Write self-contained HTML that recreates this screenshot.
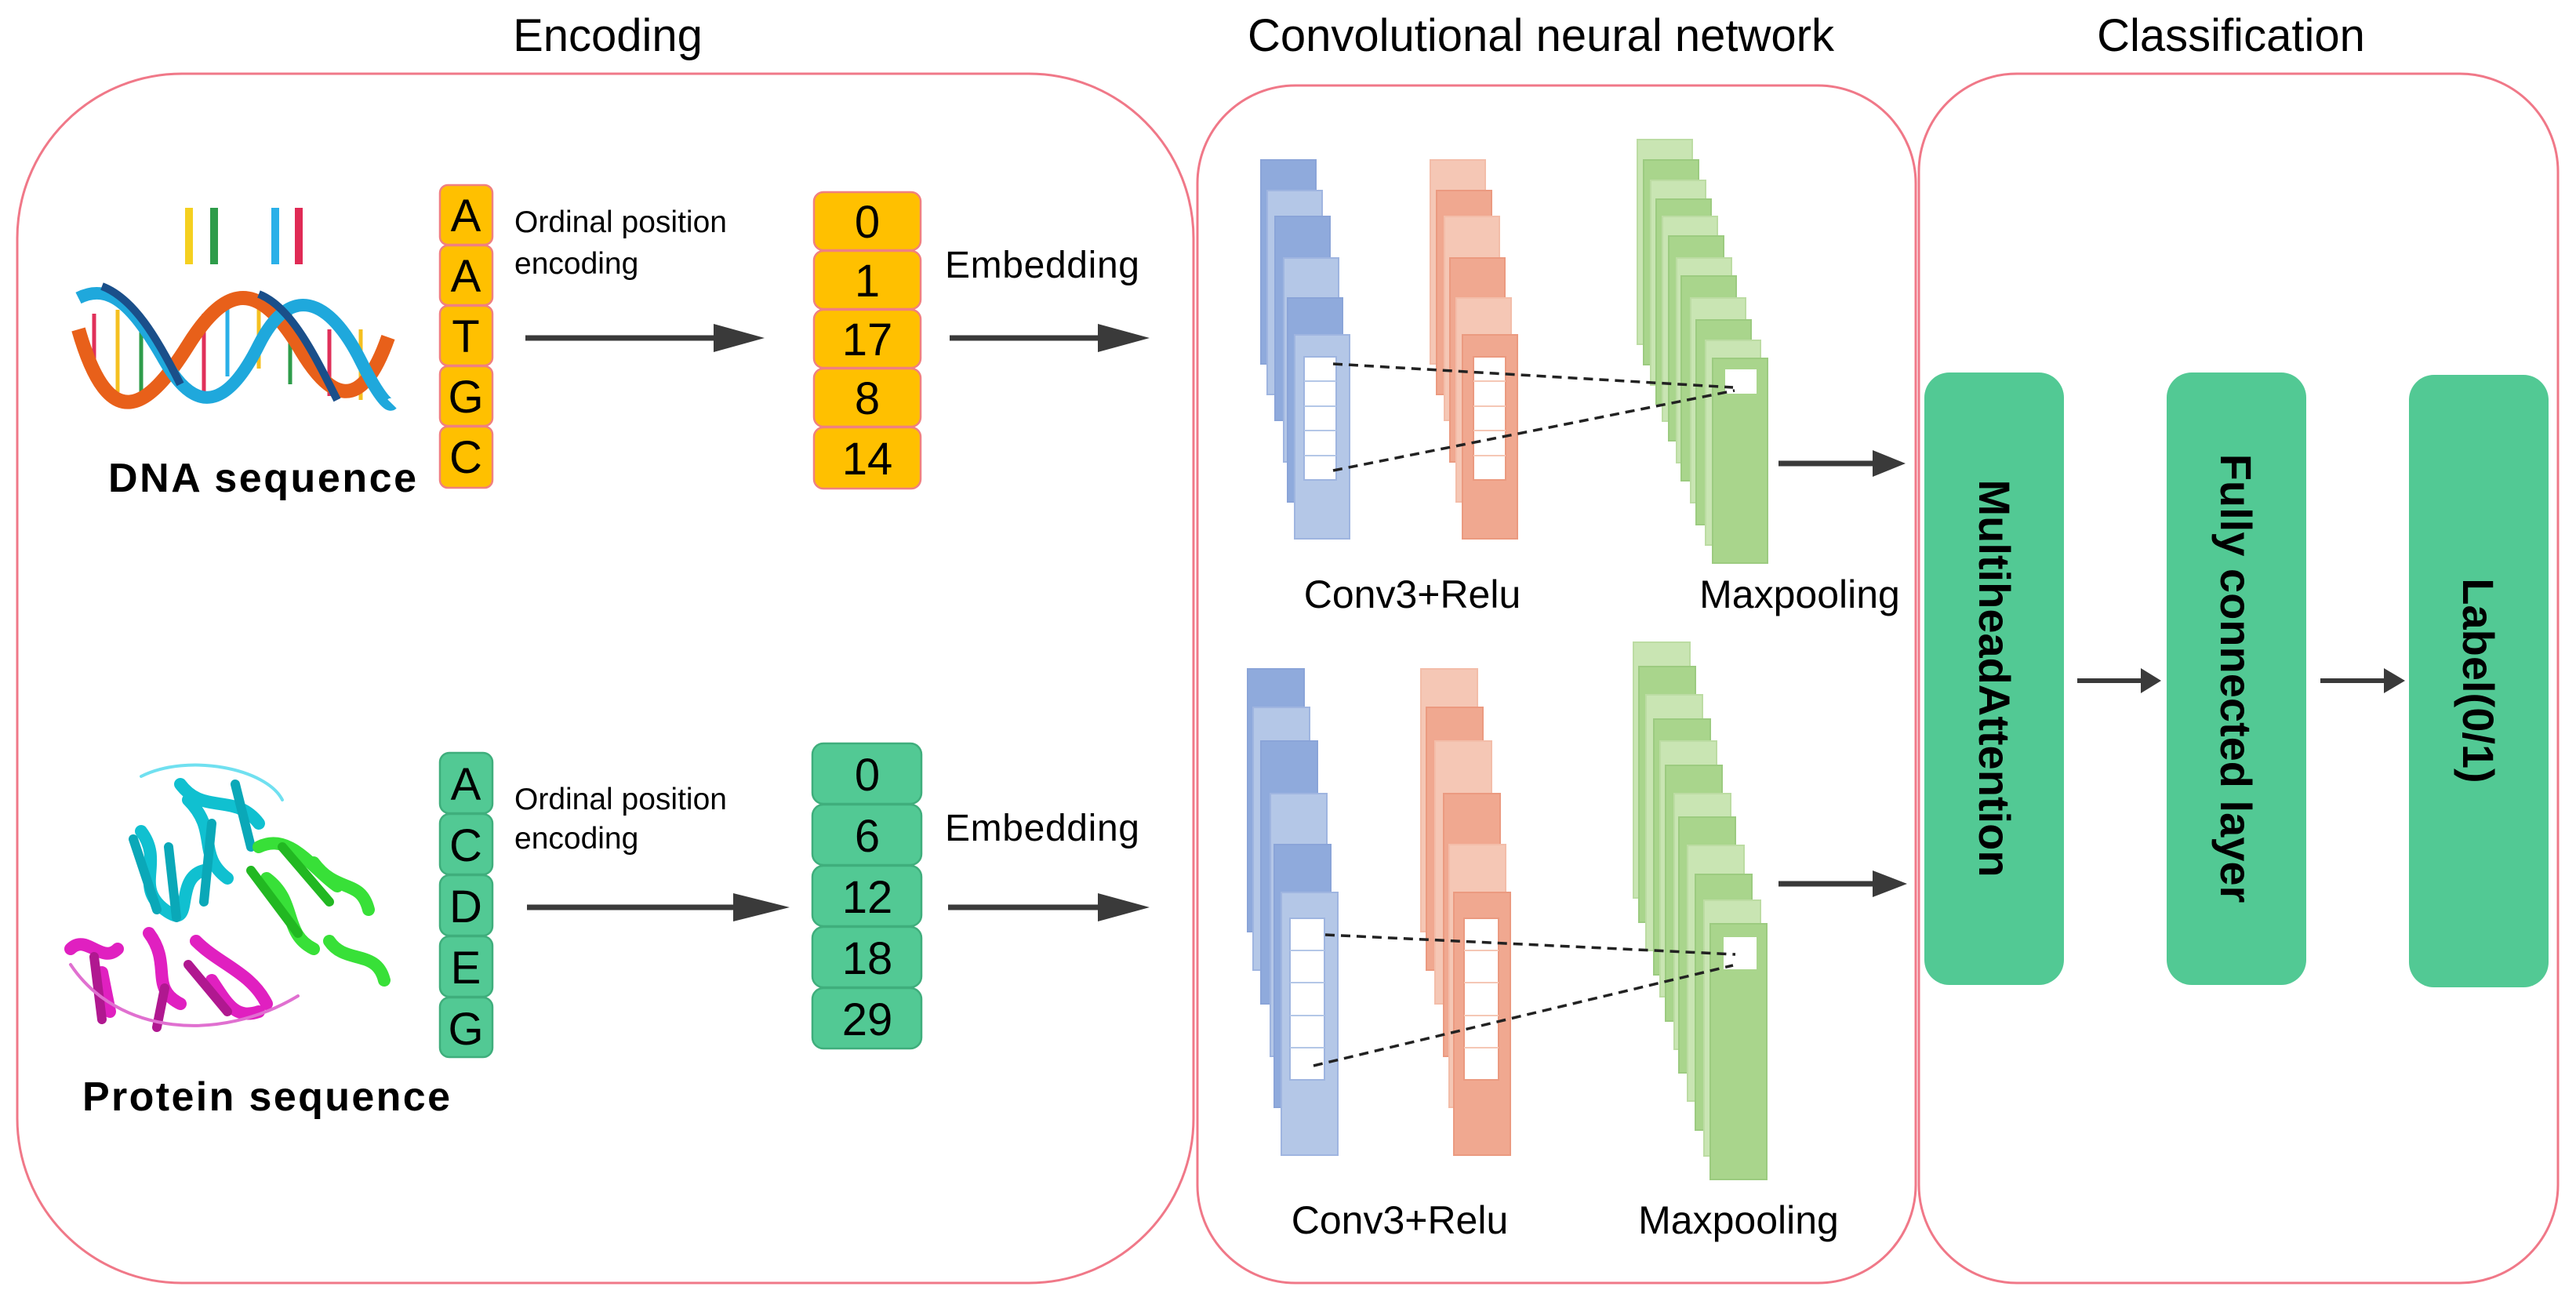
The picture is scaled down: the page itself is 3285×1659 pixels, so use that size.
<!DOCTYPE html>
<html><head><meta charset="utf-8"><style>
html,body{margin:0;padding:0;background:#fff}
svg{display:block}
text{font-family:"Liberation Sans",Arial,sans-serif}
</style></head><body>
<svg width="3285" height="1659" viewBox="0 0 3285 1659" xmlns="http://www.w3.org/2000/svg">
<defs>
<marker id="ah" markerWidth="10" markerHeight="10" refX="0" refY="0" orient="auto"></marker>
</defs>
<!-- Titles -->
<text x="775" y="65" font-size="58" text-anchor="middle">Encoding</text>
<text x="1965" y="65" font-size="58" text-anchor="middle">Convolutional neural network</text>
<text x="2845" y="65" font-size="58" text-anchor="middle">Classification</text>

<!-- Big boxes -->
<rect x="22" y="94" width="1500" height="1542" rx="210" ry="210" fill="none" stroke="#f07888" stroke-width="3"/>
<rect x="1527" y="109" width="916" height="1527" rx="125" ry="125" fill="none" stroke="#f07888" stroke-width="3"/>
<rect x="2447" y="94" width="815" height="1542" rx="125" ry="125" fill="none" stroke="#f07888" stroke-width="3"/>

<!-- DNA image -->
<g>
<rect x="236" y="265" width="10" height="72" fill="#f5d020"/>
<rect x="268" y="265" width="10" height="72" fill="#2e9c4a"/>
<rect x="346" y="265" width="10" height="72" fill="#2ab0e8"/>
<rect x="376" y="265" width="10" height="72" fill="#e02a55"/>
<g stroke-width="5">
<line x1="120" y1="400" x2="120" y2="480" stroke="#e0305a"/>
<line x1="150" y1="395" x2="150" y2="500" stroke="#f5c020"/>
<line x1="180" y1="420" x2="180" y2="500" stroke="#2e9c4a"/>
<line x1="260" y1="400" x2="260" y2="500" stroke="#e0305a"/>
<line x1="290" y1="385" x2="290" y2="480" stroke="#2ab0e8"/>
<line x1="330" y1="385" x2="330" y2="470" stroke="#f5c020"/>
<line x1="370" y1="395" x2="370" y2="490" stroke="#2e9c4a"/>
<line x1="420" y1="420" x2="420" y2="505" stroke="#e0305a"/>
<line x1="460" y1="420" x2="460" y2="510" stroke="#f5c020"/>
</g>
<path d="M100 420 C140 560 190 520 240 440 C290 360 330 360 380 440 C420 510 460 530 495 430" fill="none" stroke="#e8601a" stroke-width="18"/>
<path d="M100 380 C140 360 170 390 210 460 C250 530 290 520 330 440 C370 360 420 380 460 460 C480 500 495 520 500 515" fill="none" stroke="#1fa8dc" stroke-width="16"/>
<path d="M130 365 C170 380 200 430 230 490" fill="none" stroke="#1a4f8a" stroke-width="10"/>
<path d="M330 375 C370 390 400 450 430 510" fill="none" stroke="#1a4f8a" stroke-width="10"/>
</g>
<text x="138" y="627" font-size="52" font-weight="bold" textLength="393">DNA sequence</text>

<!-- Protein image -->
<g fill="none" stroke-linecap="round">
<path d="M230 1000 C260 1040 300 1010 330 1050 M180 1060 C210 1100 170 1130 210 1160 C250 1190 220 1120 260 1110 M240 1020 C280 1060 250 1090 290 1120" stroke="#10c0d0" stroke-width="16"/>
<path d="M170 1070 L200 1160 M215 1080 L225 1170 M270 1050 L260 1150 M300 1000 L320 1080" stroke="#0aa8b8" stroke-width="12"/>
<path d="M330 1080 C370 1060 400 1110 430 1130 M340 1120 C380 1150 360 1190 400 1210 M400 1100 C430 1140 460 1120 470 1160 M420 1200 C440 1230 480 1210 490 1250" stroke="#38e038" stroke-width="16"/>
<path d="M320 1110 L380 1190 M360 1080 L420 1150" stroke="#22b822" stroke-width="12"/>
<path d="M90 1210 C110 1190 130 1230 150 1210 M130 1240 L140 1290 M190 1190 C220 1230 190 1260 230 1280 M250 1200 C280 1230 320 1240 340 1280 M270 1250 C290 1280 300 1300 330 1290" stroke="#e020c0" stroke-width="16"/>
<path d="M120 1220 L130 1300 M240 1230 L290 1290 M210 1260 L200 1310" stroke="#b01890" stroke-width="12"/>
<path d="M90 1230 C150 1320 280 1330 380 1270" stroke="#e070d0" stroke-width="4"/>
<path d="M180 990 C240 960 340 980 360 1020" stroke="#70e0f0" stroke-width="4"/>
</g>
<text x="105" y="1416" font-size="52" font-weight="bold" textLength="469">Protein sequence</text>

<!-- DNA letters -->
<g fill="#ffc000" stroke="#f08080" stroke-width="2.5">
<rect x="561" y="236" width="67" height="76" rx="10"/>
<rect x="561" y="313" width="67" height="76" rx="10"/>
<rect x="561" y="390" width="67" height="76" rx="10"/>
<rect x="561" y="467" width="67" height="76" rx="10"/>
<rect x="561" y="544" width="67" height="78" rx="10"/>
</g>
<g font-size="58" text-anchor="middle">
<text x="594" y="295">A</text><text x="594" y="372">A</text><text x="594" y="449">T</text><text x="594" y="526">G</text><text x="594" y="603">C</text>
</g>
<g fill="#ffc000" stroke="#f08080" stroke-width="2.5">
<rect x="1038" y="245" width="136" height="74" rx="12"/>
<rect x="1038" y="320" width="136" height="74" rx="12"/>
<rect x="1038" y="395" width="136" height="74" rx="12"/>
<rect x="1038" y="470" width="136" height="74" rx="12"/>
<rect x="1038" y="545" width="136" height="78" rx="12"/>
</g>
<g font-size="58" text-anchor="middle">
<text x="1106" y="303">0</text><text x="1106" y="378">1</text><text x="1106" y="453">17</text><text x="1106" y="528">8</text><text x="1106" y="605">14</text>
</g>
<text x="656" y="296" font-size="39">Ordinal position</text>
<text x="656" y="349" font-size="39">encoding</text>
<text x="1205" y="354" font-size="48" textLength="248">Embedding</text>

<!-- Protein letters -->
<g fill="#52c994" stroke="#3fae7c" stroke-width="2.5">
<rect x="561" y="960" width="67" height="77" rx="12"/>
<rect x="561" y="1038" width="67" height="77" rx="12"/>
<rect x="561" y="1116" width="67" height="77" rx="12"/>
<rect x="561" y="1194" width="67" height="77" rx="12"/>
<rect x="561" y="1272" width="67" height="76" rx="12"/>
</g>
<g font-size="58" text-anchor="middle">
<text x="594" y="1020">A</text><text x="594" y="1098">C</text><text x="594" y="1176">D</text><text x="594" y="1254">E</text><text x="594" y="1332">G</text>
</g>
<g fill="#52c994" stroke="#3fae7c" stroke-width="2.5">
<rect x="1036" y="948" width="139" height="77" rx="14"/>
<rect x="1036" y="1026" width="139" height="77" rx="14"/>
<rect x="1036" y="1104" width="139" height="77" rx="14"/>
<rect x="1036" y="1182" width="139" height="77" rx="14"/>
<rect x="1036" y="1260" width="139" height="77" rx="14"/>
</g>
<g font-size="58" text-anchor="middle">
<text x="1106" y="1008">0</text><text x="1106" y="1086">6</text><text x="1106" y="1164">12</text><text x="1106" y="1242">18</text><text x="1106" y="1320">29</text>
</g>
<text x="656" y="1032" font-size="39">Ordinal position</text>
<text x="656" y="1082" font-size="39">encoding</text>
<text x="1205" y="1072" font-size="48" textLength="248">Embedding</text>

<!-- Encoding arrows -->
<g stroke="#3a3a3a" stroke-width="7" fill="#3a3a3a">
<line x1="670" y1="431" x2="920" y2="431"/><path d="M910 413 L975 431 L910 449 Z" stroke="none"/>
<line x1="1211" y1="431" x2="1410" y2="431"/><path d="M1400 413 L1466 431 L1400 449 Z" stroke="none"/>
<line x1="672" y1="1157" x2="945" y2="1157"/><path d="M935 1139 L1007 1157 L935 1175 Z" stroke="none"/>
<line x1="1209" y1="1157" x2="1410" y2="1157"/><path d="M1400 1139 L1466 1157 L1400 1175 Z" stroke="none"/>
</g>

<!-- CNN top: blue -->
<g stroke-width="2">
<rect x="1608" y="204" width="70" height="260" fill="#8faadc" stroke="#8aa4d8"/>
<rect x="1616" y="243" width="70" height="260" fill="#b4c7e7" stroke="#9fb5e0"/>
<rect x="1626" y="276" width="70" height="260" fill="#8faadc" stroke="#8aa4d8"/>
<rect x="1637" y="329" width="70" height="260" fill="#b4c7e7" stroke="#9fb5e0"/>
<rect x="1642" y="380" width="70" height="260" fill="#8faadc" stroke="#8aa4d8"/>
<rect x="1651" y="427" width="70" height="260" fill="#b4c7e7" stroke="#9fb5e0"/>
</g>
<rect x="1663" y="455" width="41" height="157" fill="#fff" stroke="#9fb5e0" stroke-width="2"/>
<g stroke="#b4c7e7" stroke-width="2"><line x1="1663" y1="486" x2="1704" y2="486"/><line x1="1663" y1="518" x2="1704" y2="518"/><line x1="1663" y1="549" x2="1704" y2="549"/><line x1="1663" y1="581" x2="1704" y2="581"/></g>
<!-- orange -->
<g stroke-width="2">
<rect x="1824" y="204" width="70" height="260" fill="#f5c7b5" stroke="#f3bda9"/>
<rect x="1832" y="243" width="70" height="260" fill="#f0a890" stroke="#eb9a80"/>
<rect x="1842" y="276" width="70" height="260" fill="#f5c7b5" stroke="#f3bda9"/>
<rect x="1849" y="329" width="70" height="260" fill="#f0a890" stroke="#eb9a80"/>
<rect x="1857" y="380" width="70" height="260" fill="#f5c7b5" stroke="#f3bda9"/>
<rect x="1865" y="427" width="70" height="260" fill="#f0a890" stroke="#eb9a80"/>
</g>
<rect x="1879" y="455" width="41" height="157" fill="#fff" stroke="#eb9a80" stroke-width="2"/>
<g stroke="#f5c7b5" stroke-width="2"><line x1="1879" y1="486" x2="1920" y2="486"/><line x1="1879" y1="518" x2="1920" y2="518"/><line x1="1879" y1="549" x2="1920" y2="549"/><line x1="1879" y1="581" x2="1920" y2="581"/></g>
<!-- green -->
<g stroke-width="2">
<rect x="2088" y="178" width="70" height="261" fill="#c9e5b3" stroke="#bcdca3"/>
<rect x="2096" y="204" width="70" height="261" fill="#a9d58c" stroke="#9ccb80"/>
<rect x="2105" y="230" width="70" height="261" fill="#c9e5b3" stroke="#bcdca3"/>
<rect x="2112" y="254" width="70" height="261" fill="#a9d58c" stroke="#9ccb80"/>
<rect x="2120" y="276" width="70" height="261" fill="#c9e5b3" stroke="#bcdca3"/>
<rect x="2128" y="301" width="70" height="261" fill="#a9d58c" stroke="#9ccb80"/>
<rect x="2138" y="329" width="70" height="261" fill="#c9e5b3" stroke="#bcdca3"/>
<rect x="2144" y="352" width="70" height="261" fill="#a9d58c" stroke="#9ccb80"/>
<rect x="2156" y="380" width="70" height="261" fill="#c9e5b3" stroke="#bcdca3"/>
<rect x="2163" y="408" width="70" height="261" fill="#a9d58c" stroke="#9ccb80"/>
<rect x="2175" y="434" width="70" height="261" fill="#c9e5b3" stroke="#bcdca3"/>
<rect x="2184" y="457" width="70" height="261" fill="#a9d58c" stroke="#9ccb80"/>
</g>
<rect x="2200" y="471" width="40" height="31" fill="#fff"/>
<g stroke="#222" stroke-width="3.5" stroke-dasharray="12 8" fill="none">
<line x1="1700" y1="464" x2="2210" y2="494"/>
<line x1="1700" y1="600" x2="2212" y2="498"/>
</g>
<g stroke="#3a3a3a" stroke-width="7" fill="#3a3a3a">
<line x1="2268" y1="591" x2="2390" y2="591"/><path d="M2388 574 L2430 591 L2388 608 Z" stroke="none"/>
</g>
<text x="1801" y="775" font-size="50" text-anchor="middle">Conv3+Relu</text>
<text x="2295" y="775" font-size="50" text-anchor="middle">Maxpooling</text>

<!-- CNN bottom: blue -->
<g stroke-width="2">
<rect x="1591" y="853" width="72" height="335" fill="#8faadc" stroke="#8aa4d8"/>
<rect x="1598" y="902" width="72" height="335" fill="#b4c7e7" stroke="#9fb5e0"/>
<rect x="1608" y="945" width="72" height="335" fill="#8faadc" stroke="#8aa4d8"/>
<rect x="1620" y="1012" width="72" height="335" fill="#b4c7e7" stroke="#9fb5e0"/>
<rect x="1625" y="1077" width="72" height="335" fill="#8faadc" stroke="#8aa4d8"/>
<rect x="1634" y="1138" width="72" height="335" fill="#b4c7e7" stroke="#9fb5e0"/>
</g>
<rect x="1645" y="1171" width="44" height="206" fill="#fff" stroke="#9fb5e0" stroke-width="2"/>
<g stroke="#b4c7e7" stroke-width="2"><line x1="1645" y1="1212" x2="1689" y2="1212"/><line x1="1645" y1="1253" x2="1689" y2="1253"/><line x1="1645" y1="1295" x2="1689" y2="1295"/><line x1="1645" y1="1336" x2="1689" y2="1336"/></g>
<g stroke-width="2">
<rect x="1812" y="853" width="72" height="335" fill="#f5c7b5" stroke="#f3bda9"/>
<rect x="1819" y="902" width="72" height="335" fill="#f0a890" stroke="#eb9a80"/>
<rect x="1830" y="945" width="72" height="335" fill="#f5c7b5" stroke="#f3bda9"/>
<rect x="1841" y="1012" width="72" height="335" fill="#f0a890" stroke="#eb9a80"/>
<rect x="1848" y="1077" width="72" height="335" fill="#f5c7b5" stroke="#f3bda9"/>
<rect x="1854" y="1138" width="72" height="335" fill="#f0a890" stroke="#eb9a80"/>
</g>
<rect x="1867" y="1171" width="44" height="206" fill="#fff" stroke="#eb9a80" stroke-width="2"/>
<g stroke="#f5c7b5" stroke-width="2"><line x1="1867" y1="1212" x2="1911" y2="1212"/><line x1="1867" y1="1253" x2="1911" y2="1253"/><line x1="1867" y1="1295" x2="1911" y2="1295"/><line x1="1867" y1="1336" x2="1911" y2="1336"/></g>
<g stroke-width="2">
<rect x="2083" y="819" width="72" height="326" fill="#c9e5b3" stroke="#bcdca3"/>
<rect x="2090" y="850" width="72" height="326" fill="#a9d58c" stroke="#9ccb80"/>
<rect x="2099" y="886" width="72" height="326" fill="#c9e5b3" stroke="#bcdca3"/>
<rect x="2109" y="917" width="72" height="326" fill="#a9d58c" stroke="#9ccb80"/>
<rect x="2117" y="945" width="72" height="326" fill="#c9e5b3" stroke="#bcdca3"/>
<rect x="2124" y="976" width="72" height="326" fill="#a9d58c" stroke="#9ccb80"/>
<rect x="2135" y="1012" width="72" height="326" fill="#c9e5b3" stroke="#bcdca3"/>
<rect x="2141" y="1042" width="72" height="326" fill="#a9d58c" stroke="#9ccb80"/>
<rect x="2152" y="1078" width="72" height="326" fill="#c9e5b3" stroke="#bcdca3"/>
<rect x="2162" y="1115" width="72" height="326" fill="#a9d58c" stroke="#9ccb80"/>
<rect x="2173" y="1148" width="72" height="326" fill="#c9e5b3" stroke="#bcdca3"/>
<rect x="2181" y="1178" width="72" height="326" fill="#a9d58c" stroke="#9ccb80"/>
</g>
<rect x="2198" y="1195" width="42" height="41" fill="#fff"/>
<g stroke="#222" stroke-width="3.5" stroke-dasharray="12 8" fill="none">
<line x1="1690" y1="1192" x2="2213" y2="1217"/>
<line x1="1675" y1="1359" x2="2210" y2="1231"/>
</g>
<g stroke="#3a3a3a" stroke-width="7" fill="#3a3a3a">
<line x1="2268" y1="1127" x2="2390" y2="1127"/><path d="M2388 1110 L2432 1127 L2388 1144 Z" stroke="none"/>
</g>
<text x="1785" y="1573" font-size="50" text-anchor="middle">Conv3+Relu</text>
<text x="2217" y="1573" font-size="50" text-anchor="middle">Maxpooling</text>

<!-- Classification -->
<rect x="2454" y="475" width="178" height="781" rx="32" fill="#52c994"/>
<rect x="2763" y="475" width="178" height="781" rx="32" fill="#52c994"/>
<rect x="3072" y="478" width="178" height="781" rx="32" fill="#52c994"/>
<g font-size="56" font-weight="bold" text-anchor="middle">
<text transform="translate(2524,865) rotate(90)">MultiheadAttention</text>
<text transform="translate(2832,865) rotate(90)">Fully connected layer</text>
<text transform="translate(3141,868) rotate(90)">Label(0/1)</text>
</g>
<g stroke="#3a3a3a" stroke-width="6" fill="#3a3a3a">
<line x1="2649" y1="868" x2="2735" y2="868"/><path d="M2730 852 L2756 868 L2730 884 Z" stroke="none"/>
<line x1="2959" y1="868" x2="3045" y2="868"/><path d="M3040 852 L3067 868 L3040 884 Z" stroke="none"/>
</g>
</svg>
</body></html>
